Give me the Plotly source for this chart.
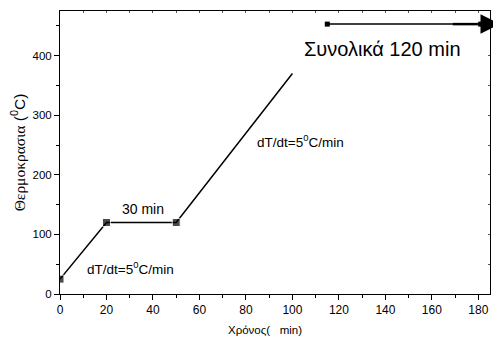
import plotly.graph_objects as go

# Heating programme
time_min = [0, 20, 50, 100]
temperature_c = [25, 120, 120, 370]
marker_sizes = [8, 8, 8, 0]

# Total-duration arrow
total_x = [115, 185]
total_y = [453, 453]
total_marker_x = [115, 181]

x_ticks = [0, 20, 40, 60, 80, 100, 120, 140, 160, 180]
y_ticks = [0, 100, 200, 300, 400]

FONT = "Liberation Sans, Arial, sans-serif"

fig = go.Figure()

fig.add_trace(go.Scatter(
    x=time_min, y=temperature_c, mode="lines+markers",
    line=dict(color="black", width=1.5),
    marker=dict(symbol="square", size=marker_sizes, color="black"),
    showlegend=False, hoverinfo="skip"))

fig.add_trace(go.Scatter(
    x=total_x, y=total_y, mode="lines",
    line=dict(color="black", width=1.5),
    showlegend=False, hoverinfo="skip"))
fig.add_trace(go.Scatter(
    x=[169, 181], y=[453, 453], mode="lines",
    line=dict(color="black", width=2.5),
    showlegend=False, hoverinfo="skip"))
fig.add_trace(go.Scatter(
    x=total_marker_x, y=[453, 453], mode="markers",
    marker=dict(symbol="square", size=5, color="black"),
    showlegend=False, hoverinfo="skip"))

# dummy trace for mirrored top/right axes
fig.add_trace(go.Scatter(x=[None], y=[None], xaxis="x2", yaxis="y2",
                         showlegend=False, hoverinfo="skip"))

# arrow head just beyond the right edge of the plot
fig.add_annotation(x=1.0233, xref="paper", y=total_y[0], yref="y",
                   ax=-22, ay=0, axref="pixel", ayref="pixel",
                   text="", showarrow=True, arrowhead=2, arrowsize=2.6,
                   arrowwidth=1.5, arrowcolor="black", standoff=0)

fig.add_annotation(x=35.9, y=143, text="30 min", showarrow=False,
                   font=dict(family=FONT, size=14, color="black"))
fig.add_annotation(x=30.3, y=44, text="dT/dt=5<sup>0</sup>C/min", showarrow=False,
                   font=dict(family=FONT, size=13.5, color="black"))
fig.add_annotation(x=103.4, y=257, text="dT/dt=5<sup>0</sup>C/min", showarrow=False,
                   font=dict(family=FONT, size=13.5, color="black"))
fig.add_annotation(x=138.7, y=412, text="Συνολικά 120 min", showarrow=False,
                   font=dict(family=FONT, size=20, color="black"))
fig.add_annotation(x=0.477, xref="paper", y=-0.155, yref="paper",
                   text="Χρόνος(   min)", showarrow=False,
                   font=dict(family=FONT, size=11.5, color="black"))

axis_common = dict(showgrid=False, zeroline=False, showline=True,
                   linecolor="black", linewidth=1, automargin=False)

fig.update_layout(
    width=493, height=341,
    margin=dict(l=52, r=11, t=3, b=55),
    paper_bgcolor="white", plot_bgcolor="white",
    font=dict(family=FONT, size=12, color="black"),
    xaxis=dict(range=[0, 185], tickvals=x_ticks, ticks="outside", ticklen=5,
               tickcolor="black", tickfont=dict(size=12),
               minor=dict(dtick=10, ticks="outside", ticklen=3, tickcolor="black"),
               **axis_common),
    yaxis=dict(range=[0, 475], tickvals=y_ticks, ticks="outside", ticklen=5,
               tickcolor="black", tickfont=dict(size=11.5),
               minor=dict(dtick=50, ticks="outside", ticklen=3, tickcolor="black"),
               title=dict(text="<span style=\"font-family:'Liberation Serif'\">Θερμοκρασια</span> (<sup>0</sup>C)",
                          font=dict(size=15.5), standoff=16),
               **axis_common),
    xaxis2=dict(overlaying="x", side="top", range=[0, 185], tickvals=x_ticks,
                ticks="inside", ticklen=2, tickcolor="#555", showticklabels=False,
                minor=dict(dtick=10, ticks="inside", ticklen=2, tickcolor="#555"),
                **axis_common),
    yaxis2=dict(overlaying="y", side="right", range=[0, 475], tickvals=y_ticks,
                ticks="inside", ticklen=2, tickcolor="#555", showticklabels=False,
                minor=dict(dtick=50, ticks="inside", ticklen=2, tickcolor="#555"),
                **axis_common),
)

fig.write_html("out.html")
